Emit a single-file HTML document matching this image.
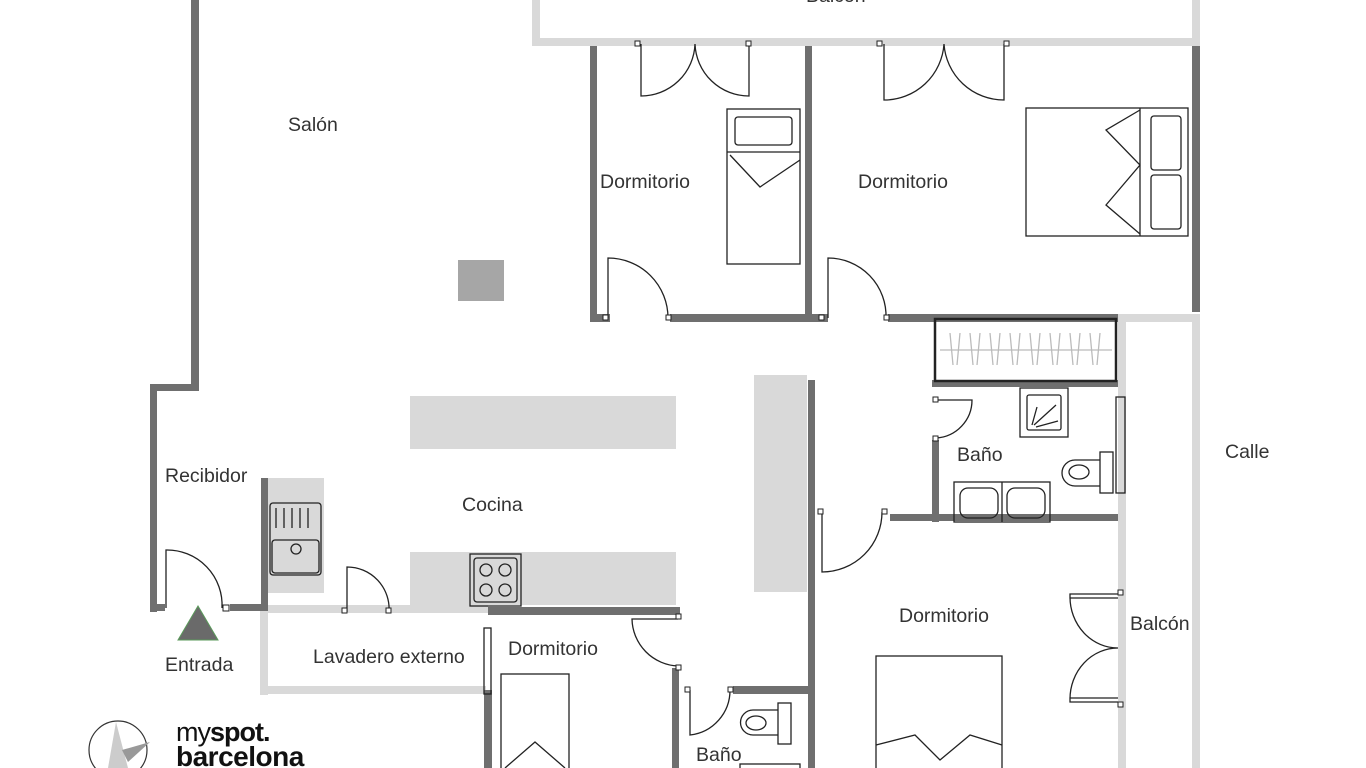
<!DOCTYPE html>
<html><head><meta charset="utf-8"><style>
html,body{margin:0;padding:0;background:#fff;width:1366px;height:768px;overflow:hidden}
text{font-family:"Liberation Sans",sans-serif;fill:#333;font-size:19.5px}
</style></head><body>
<svg width="1366" height="768" viewBox="0 0 1366 768" xmlns="http://www.w3.org/2000/svg">
<g fill="#d9d9d9">
<rect x="532" y="0" width="8" height="46"/><rect x="532" y="38" width="668" height="8"/><rect x="1192" y="0" width="8" height="46"/>
<rect x="1118" y="318" width="8" height="450"/><rect x="1192" y="318" width="8" height="450"/><rect x="1118" y="314" width="82" height="8"/>
<rect x="410" y="396" width="266" height="53"/><rect x="410" y="552" width="266" height="53"/>
<rect x="268" y="478" width="56" height="115"/>
<rect x="754" y="375" width="53" height="217"/>
<rect x="260" y="606" width="8" height="89"/><rect x="260" y="686" width="226" height="8"/><rect x="268" y="605" width="220" height="8"/>
</g>
<rect x="458" y="260" width="46" height="41" fill="#a6a6a6"/>
<g fill="#6f6f6f">
<rect x="191" y="0" width="8" height="390"/><rect x="150" y="384" width="49" height="7"/><rect x="150" y="384" width="7" height="228"/>
<rect x="150" y="604" width="15" height="7"/><rect x="230" y="604" width="38" height="7"/><rect x="261" y="478" width="7" height="133"/>
<rect x="590" y="46" width="7" height="276"/><rect x="590" y="314" width="20" height="8"/><rect x="670" y="314" width="150" height="8"/>
<rect x="805" y="46" width="7" height="276"/><rect x="820" y="314" width="8" height="8"/><rect x="888" y="314" width="230" height="8"/>
<rect x="1192" y="46" width="8" height="266"/>
<rect x="932" y="380" width="186" height="7"/><rect x="932" y="440" width="7" height="82"/><rect x="890" y="514" width="228" height="7"/>
<rect x="808" y="380" width="7" height="388"/>
<rect x="488" y="607" width="192" height="8"/><rect x="484" y="690" width="8" height="78"/>
<rect x="672" y="668" width="7" height="100"/><rect x="733" y="686" width="78" height="8"/>
</g>
<g fill="none" stroke="#222" stroke-width="1.3">
<rect x="935" y="319" width="181" height="62" stroke-width="2.5"/>
<path d="M940 350H1112" stroke="#bbb"/>
<path d="M950 333l3 32M960 333l-3 32M970 333l3 32M980 333l-3 32M990 333l3 32M1000 333l-3 32M1010 333l3 32M1020 333l-3 32M1030 333l3 32M1040 333l-3 32M1050 333l3 32M1060 333l-3 32M1070 333l3 32M1080 333l-3 32M1090 333l3 32M1100 333l-3 32" stroke="#bbb"/>
<rect x="727" y="109" width="73" height="155"/><rect x="735" y="117" width="57" height="28" rx="3"/><path d="M727 152H800M730 155L760 187L800 160"/>
<rect x="1026" y="108" width="162" height="128"/><rect x="1151" y="116" width="30" height="54" rx="3"/><rect x="1151" y="175" width="30" height="54" rx="3"/><path d="M1140 108V236M1140 110L1106 130L1140 165L1106 205L1140 234"/>
<rect x="876" y="656" width="126" height="130"/><path d="M876 745L915 735L940 760L970 735L1002 745"/>
<rect x="501" y="674" width="68" height="110"/><path d="M505 768L535 742L565 768"/>
<rect x="1020" y="388" width="48" height="49"/><rect x="1027" y="395" width="34" height="35" rx="2"/><path d="M1032 425l5-18M1034 425l22-20M1036 427l22-6"/>
<rect x="954" y="482" width="96" height="40"/><path d="M1002 482V522"/><rect x="960" y="488" width="38" height="30" rx="8"/><rect x="1007" y="488" width="38" height="30" rx="8"/>
<rect x="1100" y="452" width="13" height="41"/><path d="M1100 460h-25a13 13 0 0 0 0 26h25"/><ellipse cx="1079" cy="472" rx="10" ry="7"/>
<rect x="1116" y="397" width="9" height="96"/>
<rect x="778" y="703" width="13" height="41"/><path d="M778 710h-25a12 12 0 0 0 0 25h25"/><ellipse cx="756" cy="723" rx="10" ry="7"/>
<rect x="740" y="764" width="60" height="10"/>
<rect x="270" y="503" width="51" height="72" rx="3"/><path d="M276 508v20M284 508v20M292 508v20M300 508v20M308 508v20"/><rect x="272" y="540" width="47" height="33" rx="3"/><circle cx="296" cy="549" r="5"/>
<rect x="470" y="554" width="51" height="52"/><rect x="474" y="558" width="43" height="44" rx="3"/><circle cx="486" cy="570" r="6"/><circle cx="505" cy="570" r="6"/><circle cx="486" cy="590" r="6"/><circle cx="505" cy="590" r="6"/>
<path d="M641 44V96A54 54 0 0 0 695 44M749 44V96A54 54 0 0 1 695 44"/>
<path d="M884 44V100A60 60 0 0 0 944 44M1004 44V100A60 60 0 0 1 944 44"/>
<path d="M608 318V258A60 60 0 0 1 668 318"/>
<path d="M828 318V258A58 58 0 0 1 886 318"/>
<path d="M936 400H972A38 38 0 0 1 936 438"/>
<path d="M822 512V572A60 60 0 0 0 882 512"/>
<path d="M1118 594H1070V598H1118M1070 597A48 51 0 0 0 1118 648M1118 702H1070V698H1118M1070 699A48 51 0 0 1 1118 648"/>
<path d="M166 608V550A55 55 0 0 1 222 608"/>
<path d="M347 612V567A42 42 0 0 1 389 612"/>
<path d="M678 619H632A48 48 0 0 0 678 666"/>
<path d="M690 690V735A45 45 0 0 0 730 690"/>
<rect x="484" y="628" width="7" height="66"/>
</g>
<g fill="#fff" stroke="#222" stroke-width="1"><rect x="635" y="41" width="5" height="5"/><rect x="746" y="41" width="5" height="5"/><rect x="877" y="41" width="5" height="5"/><rect x="1004" y="41" width="5" height="5"/><rect x="603" y="315" width="5" height="5"/><rect x="666" y="315" width="5" height="5"/><rect x="819" y="315" width="5" height="5"/><rect x="884" y="315" width="5" height="5"/><rect x="933" y="397" width="5" height="5"/><rect x="933" y="436" width="5" height="5"/><rect x="818" y="509" width="5" height="5"/><rect x="882" y="509" width="5" height="5"/><rect x="1118" y="590" width="5" height="5"/><rect x="1118" y="702" width="5" height="5"/><rect x="223" y="605" width="6" height="6"/><rect x="342" y="608" width="5" height="5"/><rect x="386" y="608" width="5" height="5"/><rect x="676" y="614" width="5" height="5"/><rect x="676" y="665" width="5" height="5"/><rect x="685" y="687" width="5" height="5"/><rect x="728" y="687" width="5" height="5"/></g>
<polygon points="198,606 178,640 218,640" fill="#6a6a6a" stroke="#5a9a5a" stroke-width="1"/>
<text x="288" y="131">Salón</text>
<text x="600" y="188">Dormitorio</text>
<text x="858" y="188">Dormitorio</text>
<text x="165" y="482">Recibidor</text>
<text x="462" y="511">Cocina</text>
<text x="957" y="461">Baño</text>
<text x="1225" y="458">Calle</text>
<text x="899" y="622">Dormitorio</text>
<text x="1130" y="630">Balcón</text>
<text x="165" y="671">Entrada</text>
<text x="313" y="663">Lavadero externo</text>
<text x="508" y="655">Dormitorio</text>
<text x="696" y="761">Baño</text>
<text x="806" y="2">Balcón</text>
<circle cx="118" cy="750" r="29" fill="none" stroke="#333" stroke-width="1.2"/>
<polygon points="116,722 108,768 128,768" fill="#ccc"/><polygon points="122,750 150,742 128,762" fill="#999"/>
<text x="176" y="741" style="font-size:27px;fill:#111;letter-spacing:-1px">my<tspan font-weight="bold">spot.</tspan></text>
<text x="176" y="766" style="font-size:28px;fill:#111;font-weight:bold;letter-spacing:-0.5px">barcelona</text>
</svg>
</body></html>
